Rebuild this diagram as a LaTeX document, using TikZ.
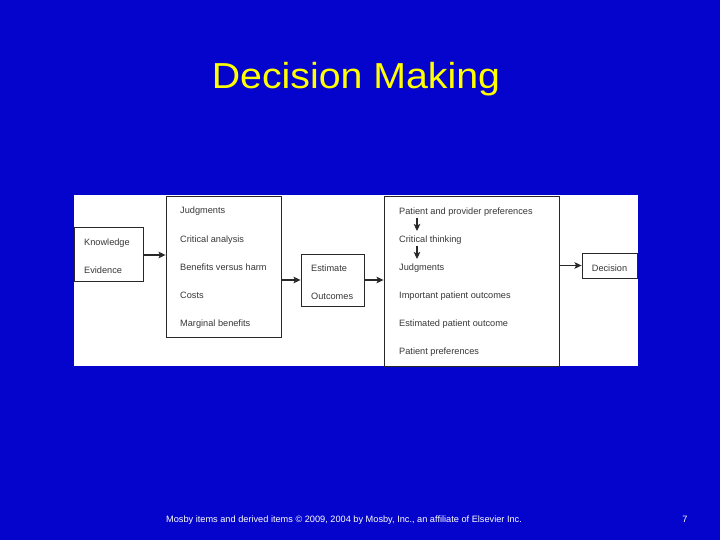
\documentclass[tikz,border=0pt]{standalone}
\usepackage{fontspec}
\setmainfont{Liberation Sans}
\usetikzlibrary{arrows.meta}
\definecolor{bgblue}{RGB}{4,4,204}
\definecolor{ttl}{RGB}{255,255,0}
\definecolor{txtg}{RGB}{55,55,55}
\definecolor{lineg}{RGB}{40,40,40}
\tikzset{
  box/.style={draw=lineg,line width=0.9pt,fill=white,inner sep=0pt},
  lbl/.style={anchor=base west,inner sep=0pt,text=txtg,font=\fontsize{9.2}{10}\selectfont},
  conn/.style={draw=lineg,line width=1.1pt,-{Stealth[length=7pt,width=6.5pt,inset=1.5pt]}},
}
\begin{document}
\begin{tikzpicture}[x=1pt,y=-1pt]
\useasboundingbox (0,0) rectangle (720,540);
\fill[bgblue] (0,0) rectangle (720,540);
\node[text=ttl,anchor=base,inner sep=0pt,font=\fontsize{39.3}{44}\selectfont] (title) at (356,89) {\scalebox{1}[0.92]{Decision Making}};
% white panel
\fill[white] (74,195) rectangle (638,366);
% boxes
\node[box,minimum width=69pt,minimum height=54pt] (kb) at (108.5,254) {};
\node[box,minimum width=115pt,minimum height=141pt] (jb) at (223.5,266.5) {};
\node[box,minimum width=63pt,minimum height=52pt] (eb) at (332.5,280) {};
\node[box,minimum width=175pt,minimum height=170pt] (pb) at (471.5,281) {};
\node[box,minimum width=55pt,minimum height=25pt] (db) at (609.5,265.5) {};
% labels
\node[lbl] (k1) at (84,245.5) {Knowledge};
\node[lbl] (k2) at (84,273) {Evidence};
\node[lbl] (j1) at (180,214) {Judgments};
\node[lbl] (j2) at (180,242) {Critical analysis};
\node[lbl] (j3) at (180,270.5) {Benefits versus harm};
\node[lbl] (j4) at (180,298.5) {Costs};
\node[lbl] (j5) at (180,326.5) {Marginal benefits};
\node[lbl] (e1) at (311,271) {Estimate};
\node[lbl] (e2) at (311,299) {Outcomes};
\node[lbl] (p1) at (399,214.5) {Patient and provider preferences};
\node[lbl] (p2) at (399,242.5) {Critical thinking};
\node[lbl] (p3) at (399,270.5) {Judgments};
\node[lbl] (p4) at (399,298.5) {Important patient outcomes};
\node[lbl] (p5) at (399,326.5) {Estimated patient outcome};
\node[lbl] (p6) at (399,354.5) {Patient preferences};
\node[lbl,anchor=base] (d1) at (609.5,271.5) {Decision};
% connectors
\draw[conn] (kb.east |- 0,255) -- (jb.west |- 0,255);
\draw[conn] (jb.east |- eb.west) -- (eb.west);
\draw[conn] (eb.east) -- (pb.west |- eb.east);
\draw[conn] (pb.east |- db.west) -- (db.west);
\draw[conn] (417,218) -- (417,231);
\draw[conn] (417,246) -- (417,259);
% footer
\node[text=white,font=\fontsize{9.2}{10}\selectfont,anchor=base west,inner sep=0pt] (foot) at (166,522.5) {Mosby items and derived items © 2009, 2004 by Mosby, Inc., an affiliate of Elsevier Inc.};
\node[text=white,font=\fontsize{9.2}{10}\selectfont,anchor=base,inner sep=0pt] (pg) at (685,522) {7};
\end{tikzpicture}
\end{document}
